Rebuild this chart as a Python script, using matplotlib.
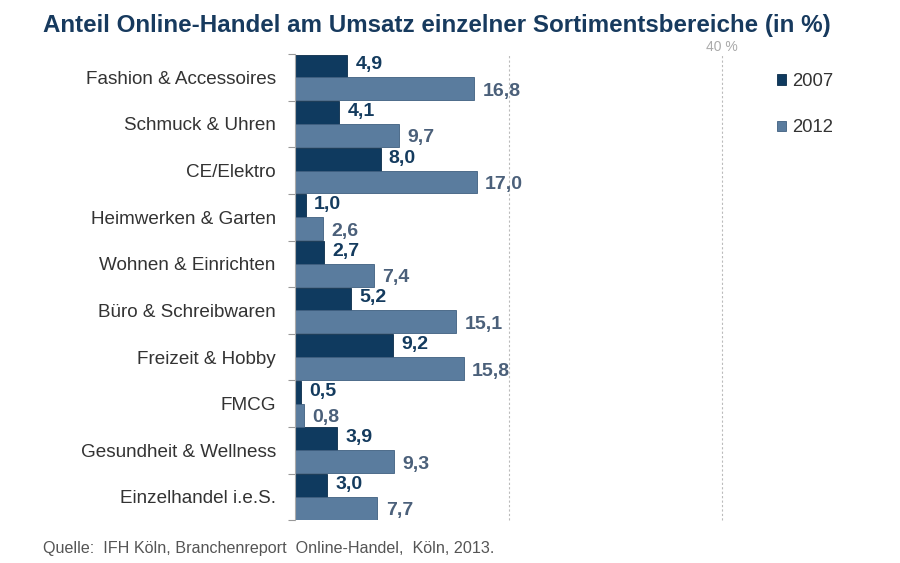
import numpy as np
import matplotlib.pyplot as plt

categories = ['Fashion & Accessoires', 'Schmuck & Uhren', 'CE/Elektro',
              'Heimwerken & Garten', 'Wohnen & Einrichten', 'Büro & Schreibwaren',
              'Freizeit & Hobby', 'FMCG', 'Gesundheit & Wellness', 'Einzelhandel i.e.S.']
vals_2007 = [4.9, 4.1, 8.0, 1.0, 2.7, 5.2, 9.2, 0.5, 3.9, 3.0]
vals_2012 = [16.8, 9.7, 17.0, 2.6, 7.4, 15.1, 15.8, 0.8, 9.3, 7.7]
years = ['2007', '2012']

plt.rcParams['font.family'] = ['Liberation Sans', 'DejaVu Sans']

c_dark = '#0f3a5f'
c_light = '#5a7c9e'
txt_dark = '#143b5e'
txt_light = '#4b607a'

fig = plt.figure(figsize=(9, 5.63), dpi=100)
ax = fig.add_axes([0.328, 0.076, 0.474, 0.828])

y = np.arange(len(categories))
h = 0.49
b1 = ax.barh(y - 0.245, vals_2007, height=h, color=c_dark, edgecolor='#0a2c4a', linewidth=0.6, label=years[0])
b2 = ax.barh(y + 0.245, vals_2012, height=h, color=c_light, edgecolor='#3f5f80', linewidth=0.6, label=years[1])

for yi, v in zip(y, vals_2007):
    ax.annotate(f'{v:.1f}'.replace('.', ','), (v, yi - 0.27), xytext=(6, 0), textcoords='offset points',
                va='center', ha='left', fontsize=14, fontweight='bold', color=txt_dark)
for yi, v in zip(y, vals_2012):
    ax.annotate(f'{v:.1f}'.replace('.', ','), (v, yi + 0.3), xytext=(6, 0), textcoords='offset points',
                va='center', ha='left', fontsize=14, fontweight='bold', color=txt_light)

ax.set_xlim(0, 40)
ax.set_ylim(len(categories) - 0.5, -0.5)
ax.set_yticks(y)
ax.set_yticklabels(categories, fontsize=13.6, color='#333333')
ax.tick_params(axis='y', which='major', length=0, pad=14)
ax.set_yticks(np.arange(len(categories) + 1) - 0.5, minor=True)
ax.tick_params(axis='y', which='minor', length=5, color='#999999', width=0.8)
ax.set_xticks([])
for x in [20, 40]:
    ax.axvline(x, color='#bbbbbb', linestyle=(0, (2, 2)), linewidth=0.8, zorder=0, clip_on=False)
for s in ['top', 'right', 'bottom']:
    ax.spines[s].set_visible(False)
ax.spines['left'].set_color('#aaaaaa')
ax.spines['left'].set_linewidth(0.8)

fig.text(0.802, 0.917, '40 %', ha='center', va='center', fontsize=10, color='#aaaaaa')

fig.text(0.048, 0.954, 'Anteil Online-Handel am Umsatz einzelner Sortimentsbereiche (in %)',
         fontsize=17.4, fontweight='bold', color='#173a5e', va='center', ha='left')

leg = fig.legend(handles=[b1, b2], labels=years, loc='upper left', bbox_to_anchor=(0.845, 0.9),
                 frameon=False, fontsize=13.3, handlelength=0.5, handleheight=0.5,
                 handletextpad=0.3, labelspacing=1.6, labelcolor='#333333')

fig.text(0.048, 0.025, 'Quelle:  IFH Köln, Branchenreport  Online-Handel,  Köln, 2013.',
         fontsize=11.6, color='#555555', va='center', ha='left')

fig.savefig('out.png', dpi=100)
